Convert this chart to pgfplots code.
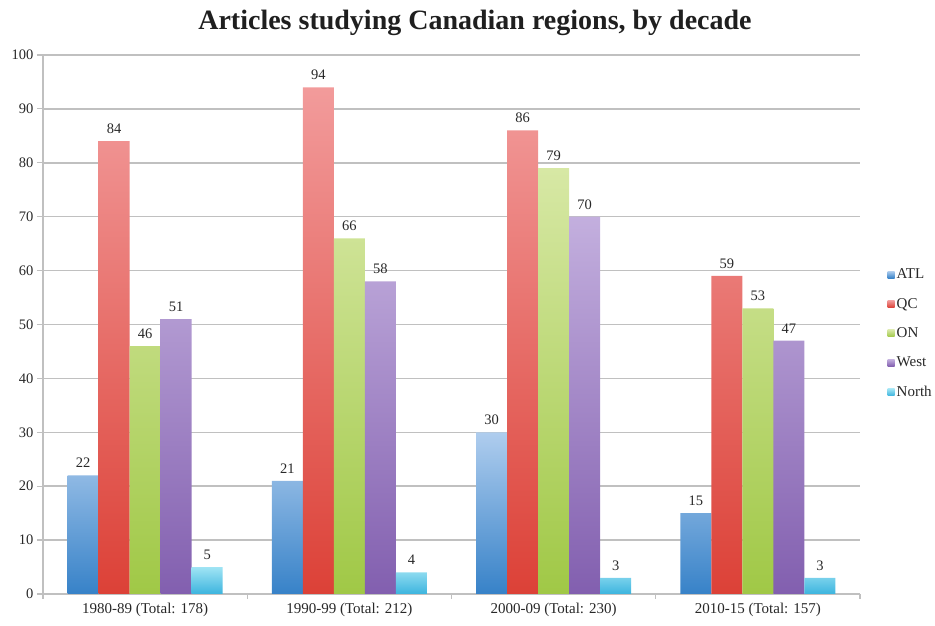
\documentclass[border=0pt]{standalone}
\usepackage{pgfplots}
\pgfplotsset{compat=1.18}
\usepackage{fontspec}
\setmainfont{Liberation Serif}
\definecolor{atlT}{RGB}{175,205,238}
\definecolor{atlB}{RGB}{55,130,200}
\definecolor{qcT}{RGB}{242,155,155}
\definecolor{qcB}{RGB}{220,65,55}
\definecolor{onT}{RGB}{215,232,165}
\definecolor{onB}{RGB}{160,200,70}
\definecolor{wT}{RGB}{195,175,222}
\definecolor{wB}{RGB}{130,95,175}
\definecolor{nT}{RGB}{160,228,244}
\definecolor{nB}{RGB}{60,180,222}
\definecolor{gridc}{RGB}{192,192,192}
\definecolor{txt}{RGB}{40,40,40}
\begin{document}
\begin{tikzpicture}
\path[use as bounding box] (-43bp,-32bp) rectangle (892bp,594bp);
\begin{axis}[
  at={(0,0)}, anchor=south west, scale only axis,
  width=817bp, height=539bp,
  ybar=0pt, bar width=0.152,
  xmin=-0.5, xmax=3.5, ymin=0, ymax=100,
  xtick={0,1,2,3},
  xticklabels={1980-89 (Total: 178),1990-99 (Total: 212),2000-09 (Total: 230),2010-15 (Total: 157)},
  minor xtick={-0.5,0.5,1.5,2.5,3.5},
  ytick={0,10,...,100},
  axis lines*=left,
  axis line style={-, gridc, line width=1.5bp},
  tick align=outside,
  major x tick style={draw=none},
  minor x tick style={gridc, line width=1.2bp},
  minor tick length=5bp,
  major y tick style={gridc, line width=1.2bp},
  major tick length=6bp,
  ymajorgrids,
  major grid style={gridc, line width=1.5bp},
  /pgf/number format/assume math mode=true,
  tick label style={font=\fontsize{14.5bp}{16bp}\selectfont, text=txt},
  xticklabel style={font=\fontsize{15bp}{17bp}\selectfont},
  nodes near coords,
  nodes near coords style={font=\fontsize{14.5bp}{16bp}\selectfont, text=txt, yshift=4bp},
  legend style={draw=none, fill=none, at={(1.03,0.483)}, anchor=west,
    font=\fontsize{15bp}{17bp}\selectfont, text=txt, row sep=14bp},
  legend cell align=left,
  legend image code/.code={\path[#1] (0bp,-3.5bp) rectangle (7bp,3.5bp);},
]
\addplot[draw=none, top color=atlT, bottom color=atlB] coordinates {(0,22) (1,21) (2,30) (3,15)};
\addplot[draw=none, top color=qcT, bottom color=qcB] coordinates {(0,84) (1,94) (2,86) (3,59)};
\addplot[draw=none, top color=onT, bottom color=onB] coordinates {(0,46) (1,66) (2,79) (3,53)};
\addplot[draw=none, top color=wT, bottom color=wB] coordinates {(0,51) (1,58) (2,70) (3,47)};
\addplot[draw=none, top color=nT, bottom color=nB] coordinates {(0,5) (1,4) (2,3) (3,3)};
\legend{ATL,QC,ON,West,North}
\end{axis}
\node[anchor=base, font=\bfseries\fontsize{28bp}{32bp}\selectfont, text=black!88] at (432bp,564bp) {Articles studying Canadian regions, by decade};
\end{tikzpicture}
\end{document}
